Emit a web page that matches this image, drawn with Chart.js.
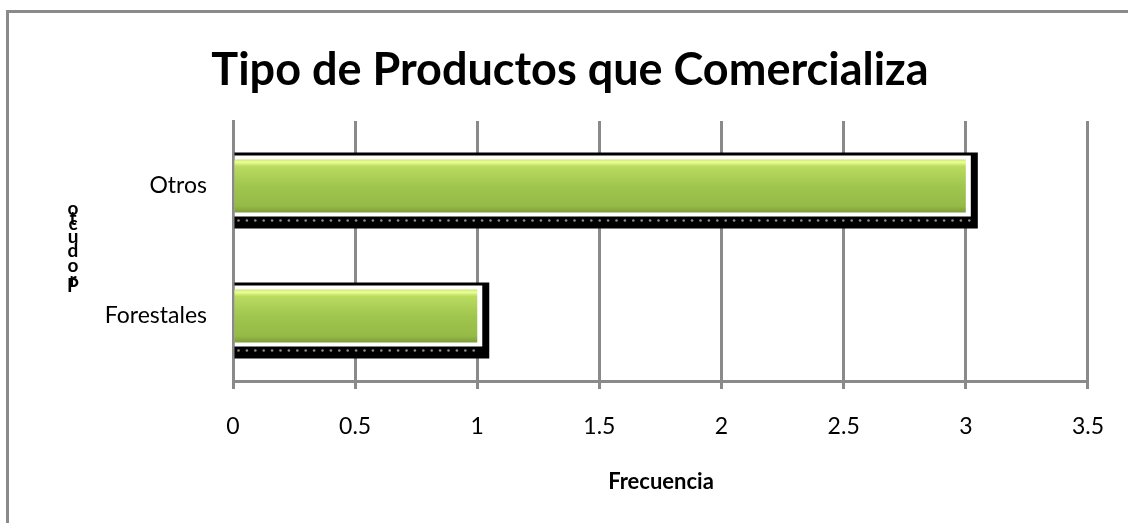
<!DOCTYPE html>
<html><head><meta charset="utf-8">
<script src="https://cdn.jsdelivr.net/npm/chart.js@4/dist/chart.umd.min.js"></script>
<style>html,body{margin:0;padding:0;background:#fff;}#wrap{width:1128px;height:523px;position:relative;}</style>
</head><body><div id="wrap"><canvas id="c" width="1128" height="523"></canvas></div>
<script>
const categories = ['Otros', 'Forestales'];
const frecuencia = [3, 1];
const xTicks = [0, 0.5, 1, 1.5, 2, 2.5, 3, 3.5];
const chartTitle = 'Tipo de Productos que Comercializa';
const xTitle = 'Frecuencia';
const yTitle = 'Producto';

const GRAY = '#8a8a8a';
const FONT = 'Lato, "Open Sans", sans-serif';
const BAR_PCT = 53 / 130;

const decor = {
  id: 'decor',
  beforeDraw(chart) {
    const ctx = chart.ctx;
    ctx.save();
    ctx.strokeStyle = GRAY; ctx.lineWidth = 3;
    ctx.strokeRect(7.5, 11.5, 1200, 600);
    ctx.fillStyle = '#000';
    ctx.textAlign = 'center'; ctx.textBaseline = 'middle';
    ctx.font = 'bold 45px ' + FONT;
    ctx.fillText(chartTitle, 570, 70);
    ctx.font = 'bold 22px ' + FONT;
    ctx.fillText(xTitle, 661, 482);
    // stacked y title (letters bottom to top)
    ctx.font = 'bold 19px ' + FONT;
    const letters = yTitle.split('');
    const ys = [286, 280, 266, 251, 237, 224, 219, 209];
    for (let i = 0; i < letters.length; i++) {
      ctx.fillText(letters[i], 73, ys[i]);
    }
    ctx.restore();
  },
  beforeDatasetsDraw(chart) {
    const ctx = chart.ctx;
    const meta = chart.getDatasetMeta(0);
    ctx.save();
    meta.data.forEach(bar => {
      const top = bar.y - bar.height / 2, bottom = bar.y + bar.height / 2;
      const left = bar.base;
      ctx.fillStyle = '#000';
      ctx.fillRect(left, top - 7, bar.x + 12 - left, bottom + 16 - (top - 7));
      ctx.fillStyle = '#fff';
      ctx.fillRect(left, top - 4, bar.x + 5 - left, bottom + 4 - (top - 4));
      ctx.fillStyle = '#8c8c8c';
      for (let x = left + 4; x < bar.x + 4; x += 8.4) {
        ctx.beginPath(); ctx.arc(x, bottom + 8, 1.3, 0, Math.PI * 2); ctx.fill();
      }
    });
    ctx.restore();
  }
};

function barFill(context) {
  const chart = context.chart;
  const ys = chart.scales && chart.scales.y;
  if (!chart.chartArea || !ys || typeof context.dataIndex !== 'number') return '#a2c84f';
  const cy = ys.getPixelForValue(context.dataIndex);
  const band = ys.height / categories.length;
  const h = band * BAR_PCT;
  const top = cy - h / 2, bottom = cy + h / 2;
  if (!isFinite(top) || !isFinite(bottom) || bottom <= top) return '#a2c84f';
  const g = chart.ctx.createLinearGradient(0, top, 0, bottom);
  g.addColorStop(0, '#c9e671');
  g.addColorStop(0.05, '#ecff94');
  g.addColorStop(0.13, '#b9db60');
  g.addColorStop(0.5, '#a1c64e');
  g.addColorStop(0.88, '#95ba46');
  g.addColorStop(1, '#7d9c3a');
  return g;
}

new Chart(document.getElementById('c'), {
  type: 'bar',
  data: {
    labels: categories,
    datasets: [{
      data: frecuencia,
      backgroundColor: barFill,
      borderWidth: 0,
      barPercentage: BAR_PCT,
      categoryPercentage: 1
    }]
  },
  plugins: [decor],
  options: {
    indexAxis: 'y',
    responsive: false,
    animation: false,
    events: [],
    layout: { padding: { left: 0, right: 40, top: 121, bottom: 0 } },
    plugins: {
      legend: { display: false },
      tooltip: { enabled: false },
      title: { display: false }
    },
    scales: {
      y: {
        afterFit(s) { s.width = 233; },
        grid: { display: false },
        border: { display: true, color: GRAY, width: 3 },
        ticks: { color: '#000', font: { family: FONT, size: 23 }, padding: 18 }
      },
      x: {
        min: 0, max: 3.5,
        afterFit(s) { s.height = 142; },
        afterBuildTicks(s) { s.ticks = xTicks.map(v => ({ value: v })); },
        grid: { color: GRAY, lineWidth: 3, tickLength: 8, tickColor: GRAY, tickWidth: 3 },
        border: { display: true, color: GRAY, width: 3 },
        ticks: { color: '#000', font: { family: FONT, size: 23 }, padding: 24, callback: v => String(v) }
      }
    }
  }
});
</script></body></html>
